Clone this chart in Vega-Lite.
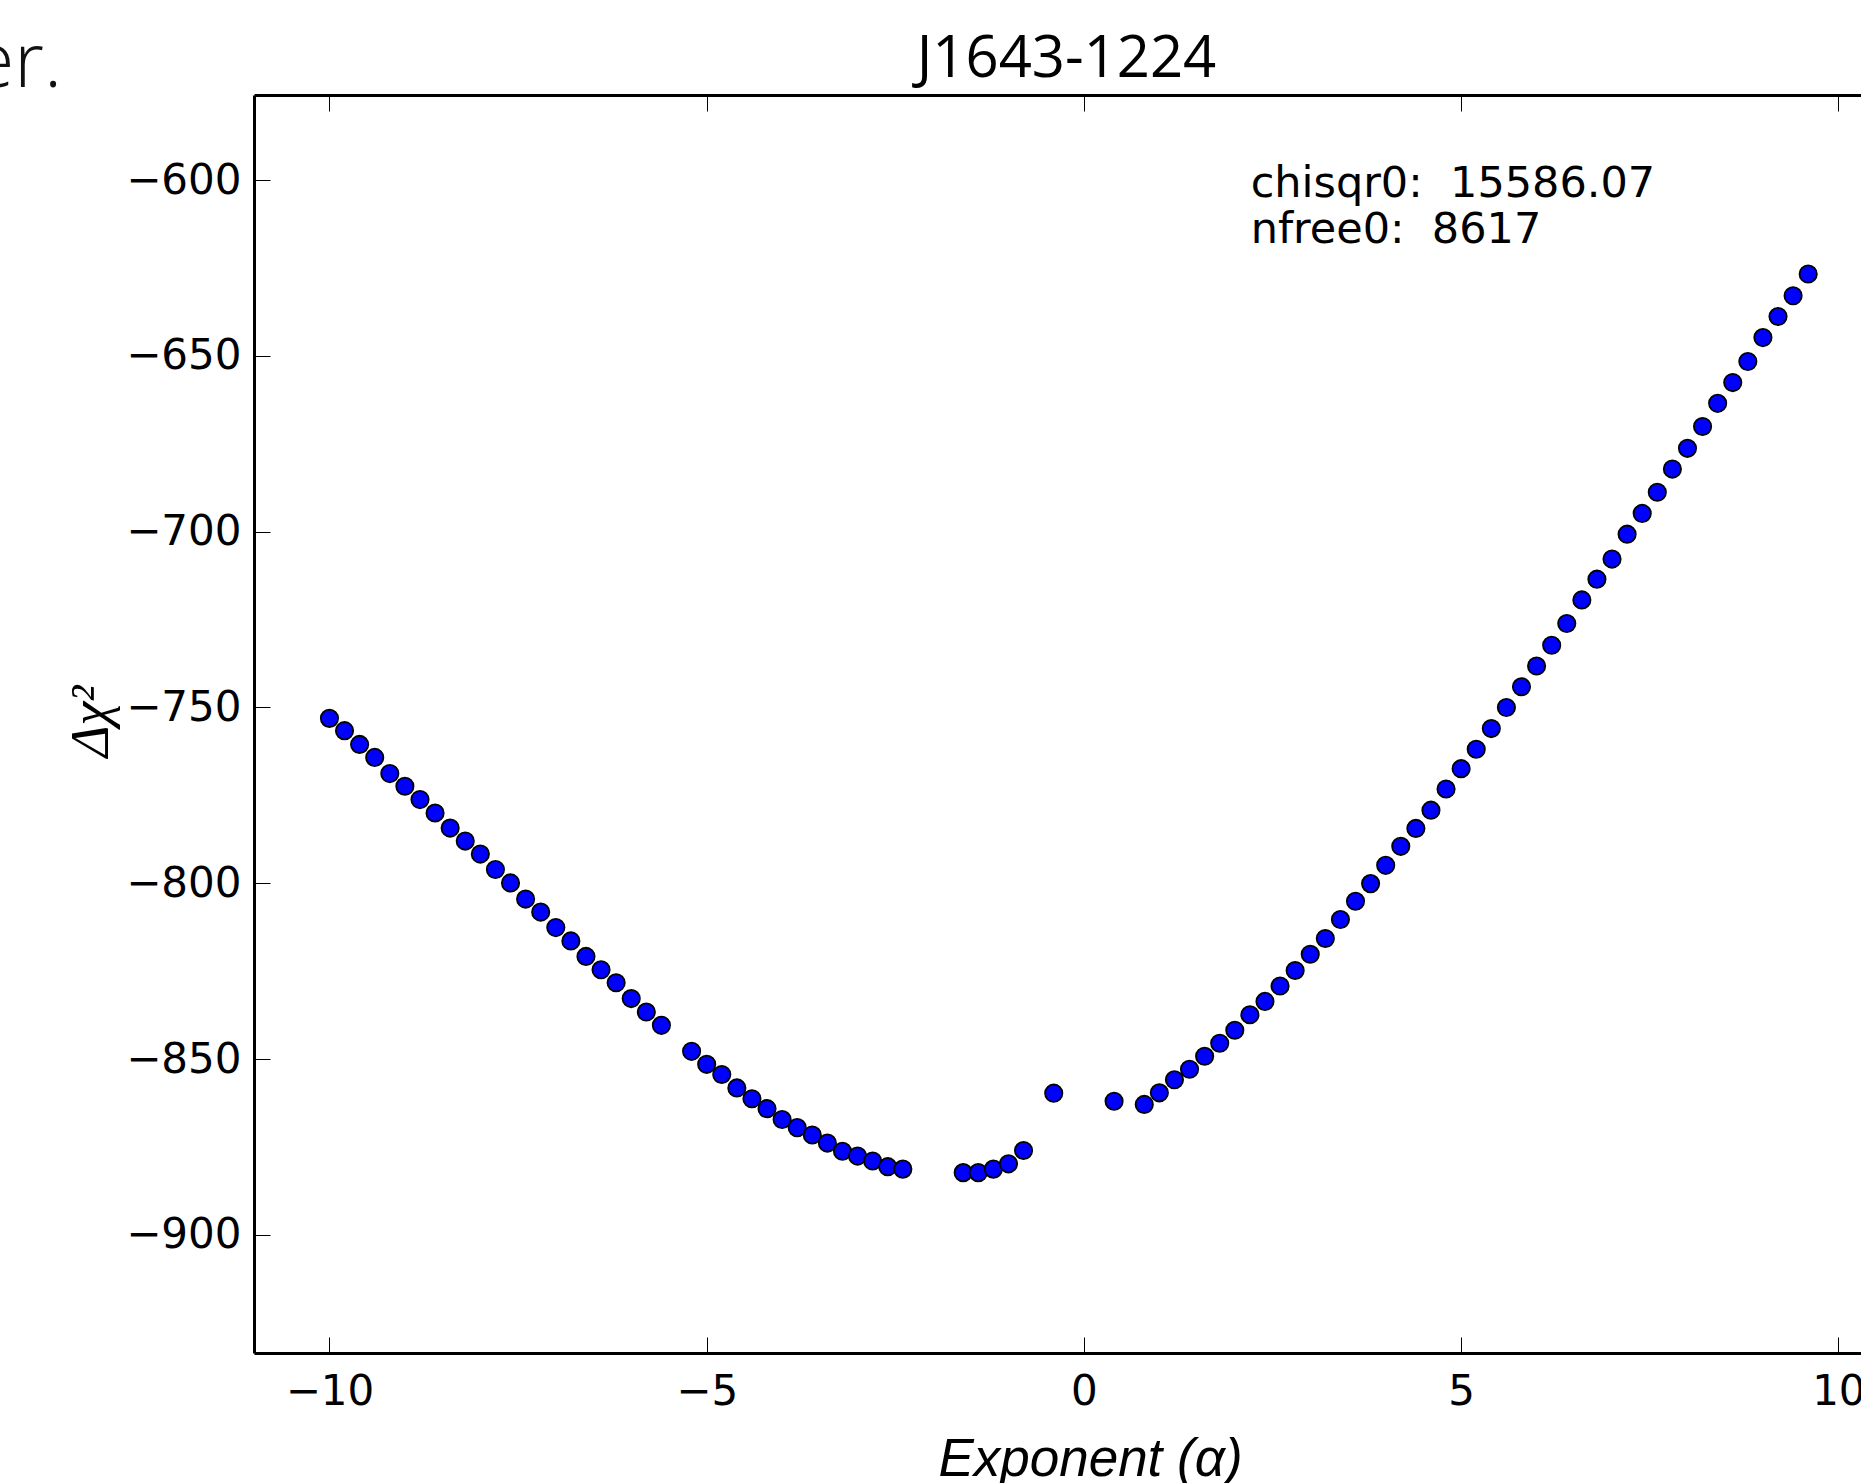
{
  "$schema": "https://vega.github.io/schema/vega-lite/v6.json",
  "width": 1607,
  "height": 1258,
  "autosize": {"type": "none"},
  "padding": {"left": 254, "top": 95, "right": 0, "bottom": 130},
  "background": "white",
  "config": {"view": {"stroke": null}},
  "data": {"values": [
    {"alpha": -10.0, "dchisq": -753.1}, {"alpha": -9.8, "dchisq": -756.6}, {"alpha": -9.6, "dchisq": -760.5},
    {"alpha": -9.4, "dchisq": -764.2}, {"alpha": -9.2, "dchisq": -768.8}, {"alpha": -9.0, "dchisq": -772.4},
    {"alpha": -8.8, "dchisq": -776.2}, {"alpha": -8.6, "dchisq": -780.0}, {"alpha": -8.4, "dchisq": -784.3},
    {"alpha": -8.2, "dchisq": -788.0}, {"alpha": -8.0, "dchisq": -791.7}, {"alpha": -7.8, "dchisq": -796.1},
    {"alpha": -7.6, "dchisq": -799.9}, {"alpha": -7.4, "dchisq": -804.5}, {"alpha": -7.2, "dchisq": -808.2},
    {"alpha": -7.0, "dchisq": -812.6}, {"alpha": -6.8, "dchisq": -816.4}, {"alpha": -6.6, "dchisq": -820.8},
    {"alpha": -6.4, "dchisq": -824.6}, {"alpha": -6.2, "dchisq": -828.3}, {"alpha": -6.0, "dchisq": -832.8},
    {"alpha": -5.8, "dchisq": -836.6}, {"alpha": -5.6, "dchisq": -840.4}, {"alpha": -5.2, "dchisq": -847.8},
    {"alpha": -5.0, "dchisq": -851.5}, {"alpha": -4.8, "dchisq": -854.4}, {"alpha": -4.6, "dchisq": -858.2},
    {"alpha": -4.4, "dchisq": -861.3}, {"alpha": -4.2, "dchisq": -864.1}, {"alpha": -4.0, "dchisq": -867.2},
    {"alpha": -3.8, "dchisq": -869.5}, {"alpha": -3.6, "dchisq": -871.6}, {"alpha": -3.4, "dchisq": -873.9},
    {"alpha": -3.2, "dchisq": -876.2}, {"alpha": -3.0, "dchisq": -877.6}, {"alpha": -2.8, "dchisq": -879.0},
    {"alpha": -2.6, "dchisq": -880.6}, {"alpha": -2.4, "dchisq": -881.3}, {"alpha": -1.6, "dchisq": -882.3},
    {"alpha": -1.4, "dchisq": -882.3}, {"alpha": -1.2, "dchisq": -881.3}, {"alpha": -1.0, "dchisq": -879.8},
    {"alpha": -0.8, "dchisq": -876.0}, {"alpha": -0.4, "dchisq": -859.7}, {"alpha": 0.4, "dchisq": -862.0},
    {"alpha": 0.8, "dchisq": -862.9}, {"alpha": 1.0, "dchisq": -859.6}, {"alpha": 1.2, "dchisq": -855.9},
    {"alpha": 1.4, "dchisq": -852.9}, {"alpha": 1.6, "dchisq": -849.2}, {"alpha": 1.8, "dchisq": -845.5},
    {"alpha": 2.0, "dchisq": -841.8}, {"alpha": 2.2, "dchisq": -837.4}, {"alpha": 2.4, "dchisq": -833.6},
    {"alpha": 2.6, "dchisq": -829.2}, {"alpha": 2.8, "dchisq": -824.8}, {"alpha": 3.0, "dchisq": -820.2},
    {"alpha": 3.2, "dchisq": -815.7}, {"alpha": 3.4, "dchisq": -810.3}, {"alpha": 3.6, "dchisq": -805.1},
    {"alpha": 3.8, "dchisq": -800.1}, {"alpha": 4.0, "dchisq": -794.9}, {"alpha": 4.2, "dchisq": -789.5},
    {"alpha": 4.4, "dchisq": -784.4}, {"alpha": 4.6, "dchisq": -779.2}, {"alpha": 4.8, "dchisq": -773.2},
    {"alpha": 5.0, "dchisq": -767.4}, {"alpha": 5.2, "dchisq": -761.9}, {"alpha": 5.4, "dchisq": -756.0},
    {"alpha": 5.6, "dchisq": -750.0}, {"alpha": 5.8, "dchisq": -744.1}, {"alpha": 6.0, "dchisq": -738.2},
    {"alpha": 6.2, "dchisq": -732.3}, {"alpha": 6.4, "dchisq": -726.1}, {"alpha": 6.6, "dchisq": -719.4},
    {"alpha": 6.8, "dchisq": -713.5}, {"alpha": 7.0, "dchisq": -707.8}, {"alpha": 7.2, "dchisq": -700.7},
    {"alpha": 7.4, "dchisq": -694.8}, {"alpha": 7.6, "dchisq": -688.8}, {"alpha": 7.8, "dchisq": -682.2},
    {"alpha": 8.0, "dchisq": -676.3}, {"alpha": 8.2, "dchisq": -670.1}, {"alpha": 8.4, "dchisq": -663.5},
    {"alpha": 8.6, "dchisq": -657.6}, {"alpha": 8.8, "dchisq": -651.6}, {"alpha": 9.0, "dchisq": -644.8},
    {"alpha": 9.2, "dchisq": -638.8}, {"alpha": 9.4, "dchisq": -632.9}, {"alpha": 9.6, "dchisq": -626.7}
  ]},
  "layer": [
    {
      "mark": {"type": "point", "shape": "circle", "filled": true, "fill": "#0000ff", "stroke": "#000000", "strokeWidth": 1.8, "size": 300, "opacity": 1},
      "encoding": {
        "x": {"field": "alpha", "type": "quantitative",
          "scale": {"domain": [-11, 10.3], "nice": false, "zero": false},
          "axis": {"values": [-10, -5, 0, 5, 10], "title": "Exponent (α)", "titleFont": "Liberation Sans", "titleFontStyle": "italic", "titleFontWeight": "normal", "titleFontSize": 53, "titleColor": "#000000", "titleX": 836, "titleY": 122, "titleAlign": "center", "titleBaseline": "alphabetic",
            "labelFont": "DejaVu Sans", "labelFontSize": 42, "labelColor": "#000000", "labelFlush": false, "labelOverlap": false, "labelBound": false, "labelBaseline": "alphabetic", "labelPadding": 67,
            "tickSize": -16, "tickColor": "#000000", "tickWidth": 1, "domainColor": "#000000", "domainWidth": 3, "grid": false}},
        "y": {"field": "dchisq", "type": "quantitative",
          "scale": {"domain": [-933.6, -575.8], "nice": false, "zero": false},
          "axis": {"values": [-900, -850, -800, -750, -700, -650, -600], "title": "Δχ²", "titleFont": "Liberation Serif", "titleFontStyle": "italic", "titleFontWeight": "normal", "titleFontSize": 54, "titleColor": "#000000", "titleAngle": 270, "titleX": -147, "titleY": 626, "titleAlign": "center", "titleBaseline": "alphabetic",
            "labelFont": "DejaVu Sans", "labelFontSize": 42, "labelColor": "#000000", "labelPadding": 29, "labelOverlap": false, "labelBound": false, "labelFlush": false,
            "tickSize": -16, "tickColor": "#000000", "tickWidth": 1, "domainColor": "#000000", "domainWidth": 3, "grid": false}}
      }
    },
    {
      "data": {"values": [{}]},
      "mark": {"type": "text", "text": ["chisqr0:\u00a0 15586.07", "nfree0:\u00a0 8617"], "align": "left", "baseline": "alphabetic", "font": "DejaVu Sans", "fontSize": 43, "lineHeight": 46, "color": "#000000"},
      "encoding": {
        "x": {"datum": 2.21, "type": "quantitative", "scale": {"domain": [-11, 10.3], "nice": false, "zero": false},
          "axis": {"orient": "top", "values": [-10, -5, 0, 5, 10], "labels": false, "title": "J1643-1224", "titleFont": "Open Sans", "titleFontSize": 58, "titleFontWeight": "normal", "titleColor": "#000000", "titleX": 812, "titleY": -19, "titleAlign": "center", "titleBaseline": "alphabetic", "tickSize": -16, "tickColor": "#000000", "tickWidth": 1, "domainColor": "#000000", "domainWidth": 3, "grid": false}},
        "y": {"datum": -604.7, "type": "quantitative", "scale": {"domain": [-933.6, -575.8], "nice": false, "zero": false}}
      }
    },
    {
      "data": {"values": [{}]},
      "mark": {"type": "text", "text": "er.", "align": "right", "baseline": "alphabetic", "font": "Open Sans", "fontWeight": 300, "fontSize": 76, "color": "#111111"},
      "encoding": {
        "x": {"datum": -13.545, "type": "quantitative", "scale": {"domain": [-11, 10.3], "nice": false, "zero": false}, "axis": null},
        "y": {"datum": -573.5, "type": "quantitative", "scale": {"domain": [-933.6, -575.8], "nice": false, "zero": false}}
      }
    }
  ],
  "resolve": {"axis": {"x": "independent"}}
}
